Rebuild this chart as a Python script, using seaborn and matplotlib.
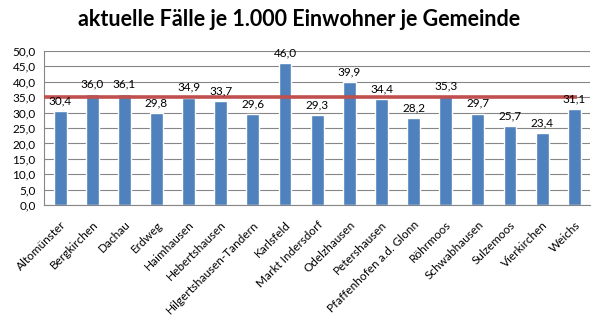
import matplotlib
matplotlib.use("Agg")
import matplotlib.pyplot as plt
import seaborn as sns
import pandas as pd
from matplotlib.ticker import FuncFormatter, MultipleLocator

gemeinden = ["Altomünster", "Bergkirchen", "Dachau", "Erdweg", "Haimhausen",
             "Hebertshausen", "Hilgertshausen-Tandern", "Karlsfeld",
             "Markt Indersdorf", "Odelzhausen", "Petershausen",
             "Pfaffenhofen a.d. Glonn", "Röhrmoos", "Schwabhausen",
             "Sulzemoos", "Vierkirchen", "Weichs"]
faelle = [30.4, 36.0, 36.1, 29.8, 34.9, 33.7, 29.6, 46.0, 29.3, 39.9,
          34.4, 28.2, 35.3, 29.7, 25.7, 23.4, 31.1]
landkreis = 35.0

df = pd.DataFrame({"Gemeinde": gemeinden, "Fälle": faelle})

sns.set_style("white")
plt.rcParams["font.family"] = ["Lato", "DejaVu Sans"]
plt.rcParams["text.color"] = "black"
plt.rcParams["xtick.color"] = "black"
plt.rcParams["ytick.color"] = "black"

fig = plt.figure(figsize=(5.99, 3.33), dpi=100)
ax = fig.add_axes([0.0735, 0.384, 0.912, 0.463])

sns.barplot(data=df, x="Gemeinde", y="Fälle", color="#4F81BD", width=0.4,
            saturation=1, ax=ax, zorder=2)

ax.hlines(landkreis, -0.5, len(gemeinden) - 0.9, color="#C0504D", lw=2.6, zorder=3)

for i, v in enumerate(faelle):
    ax.text(i, v + 1.5, f"{v:.1f}".replace(".", ","), ha="center", va="bottom",
            fontsize=8.5, color="black", zorder=4)

ax.set_xlim(-0.5, len(gemeinden) - 0.5)
ax.set_ylim(0, 50)
ax.yaxis.set_major_locator(MultipleLocator(5))
ax.yaxis.set_major_formatter(FuncFormatter(lambda v, p: f"{v:.1f}".replace(".", ",")))
ax.grid(axis="y", color="#868686", lw=0.8, zorder=0)
ax.set_axisbelow(True)

for s in ["top", "right"]:
    ax.spines[s].set_visible(False)
for s in ["left", "bottom"]:
    ax.spines[s].set_color("#868686")
    ax.spines[s].set_linewidth(0.8)

ax.set_xlabel("")
ax.set_ylabel("")
ax.set_xticks(range(len(gemeinden)))
ax.set_xticklabels(gemeinden, rotation=45, ha="right", rotation_mode="anchor",
                   fontsize=8.5)
ax.tick_params(axis="x", length=0, pad=10)
ax.set_xticks([i - 0.5 for i in range(len(gemeinden) + 1)], minor=True)
ax.tick_params(axis="x", which="minor", length=4, color="#868686", width=0.8)
ax.tick_params(axis="y", labelsize=8.5, length=4, color="#868686", width=0.8, pad=2)

fig.text(0.5, 0.94, "aktuelle Fälle je 1.000 Einwohner je Gemeinde", ha="center",
         va="center", fontsize=15.5, fontweight="bold")

fig.savefig("out.png", dpi=100, facecolor="white")
